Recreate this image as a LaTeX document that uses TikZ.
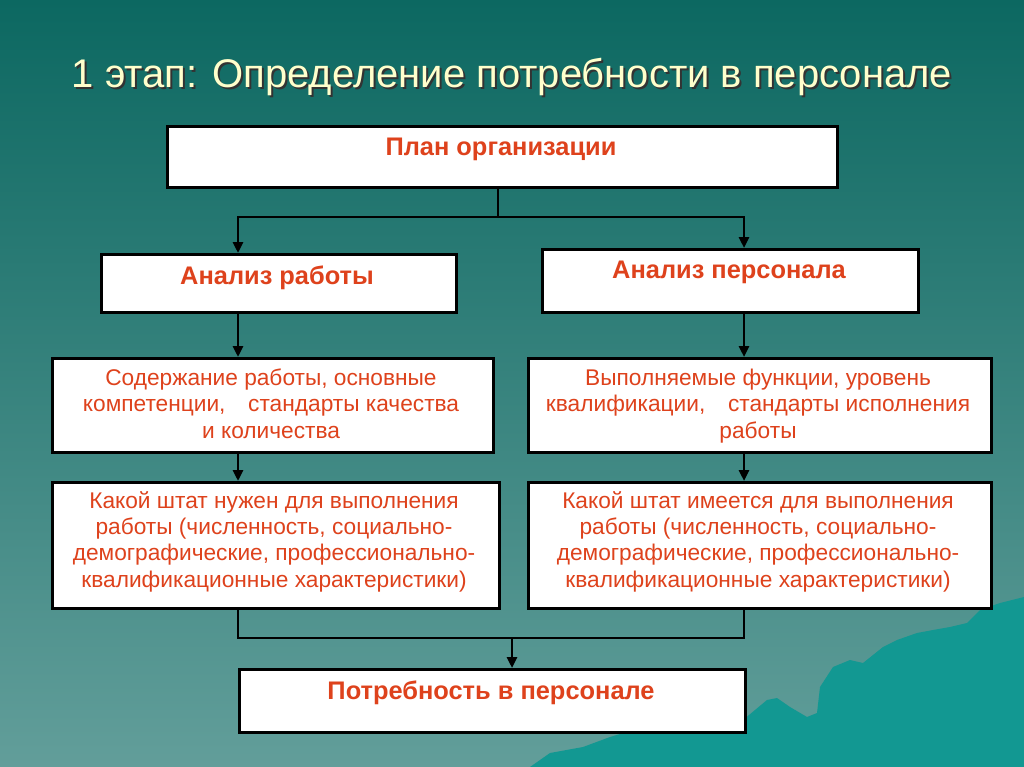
\documentclass[tikz,border=0pt]{standalone}
\usepackage{fontspec}
\setmainfont{Liberation Sans}
\usetikzlibrary{arrows.meta}
\definecolor{bgtop}{RGB}{12,104,97}
\definecolor{bgbot}{RGB}{98,158,154}
\definecolor{mount}{RGB}{18,152,146}
\definecolor{txtred}{RGB}{222,66,28}
\definecolor{titlecol}{RGB}{255,255,204}
\tikzset{
  box/.style={draw=black, line width=3pt, fill=white, inner sep=0pt, anchor=north west},
  hbold/.style={text=txtred, font=\fontsize{25.4}{30}\selectfont\bfseries, anchor=base, inner sep=0pt},
  body/.style={text=txtred, font=\fontsize{22.7}{26.3}\selectfont, anchor=base, inner sep=0pt, align=center},
  conn/.style={draw=black, line width=2.7pt},
  arr/.style={conn, -{Triangle[width=10pt,length=11pt]}},
}
\begin{document}
\begin{tikzpicture}[x=1pt,y=-1pt]
\useasboundingbox (0,0) rectangle (1024,767);
\shade[top color=bgtop, bottom color=bgbot] (0,0) rectangle (1024,767);
% mountains
\fill[mount] (530,767) -- (550,753) -- (583,747) -- (610,737) -- (643,727) -- (677,723) -- (700,720)
  -- (743,720) -- (767,700) -- (777,698) -- (790,707) -- (807,717) -- (817,713) -- (820,687)
  -- (833,667) -- (850,660) -- (863,663) -- (883,647) -- (897,640) -- (917,633) -- (933,630)
  -- (950,627) -- (967,623) -- (980,610) -- (1000,603) -- (1024,597) -- (1024,767) -- cycle;
% title
\node[text=black!80, font=\fontsize{40}{48}\selectfont, anchor=base, inner sep=0pt] (titleshadow) at (514,90) {1 этап: Определение потребности в персонале};
\node[text=titlecol, font=\fontsize{40}{48}\selectfont, anchor=base, inner sep=0pt] (title) at (512,88) {1 этап: Определение потребности в персонале};
% column coordinates
\coordinate (cl) at (238,0);
\coordinate (cr) at (744,0);
% boxes
\node[box, minimum width=670pt, minimum height=61pt] (plan) at (166,125) {};
\node[box, minimum width=355pt, minimum height=58pt] (ar) at (100,253) {};
\node[box, minimum width=376pt, minimum height=63pt] (ap) at (541,248) {};
\node[box, minimum width=441pt, minimum height=94pt] (sr) at (51,357) {};
\node[box, minimum width=463pt, minimum height=94pt] (vf) at (527,357) {};
\node[box, minimum width=447pt, minimum height=126pt] (kn) at (51,481) {};
\node[box, minimum width=463pt, minimum height=126pt] (ki) at (527,481) {};
\node[box, minimum width=506pt, minimum height=63pt] (pp) at (238,668) {};
% texts
\node[hbold] (tplan) at (501,156) {План организации};
\node[hbold] (tar) at (277,284) {Анализ работы};
\node[hbold] (tap) at (729,278) {Анализ персонала};
\node[body] (tsr) at (271,438) {Содержание работы, основные\\компетенции,\quad стандарты качества\\и количества};
\node[body] (tvf) at (758,438) {Выполняемые функции, уровень\\квалификации,\quad стандарты исполнения\\работы};
\node[body] (tkn) at (274,587) {Какой штат нужен для выполнения\\работы (численность, социально-\\демографические, профессионально-\\квалификационные характеристики)};
\node[body] (tki) at (758,587) {Какой штат имеется для выполнения\\работы (численность, социально-\\демографические, профессионально-\\квалификационные характеристики)};
\node[hbold] (tpp) at (491,699) {Потребность в персонале};
% connectors
\coordinate (j1) at (498,217);
\draw[conn] (plan.south -| j1) -- (j1);
\draw[arr] (j1) -| (ar.north -| cl);
\draw[arr] (j1) -| (ap.north -| cr);
\draw[arr] (ar.south -| cl) -- (sr.north -| cl);
\draw[arr] (ap.south -| cr) -- (vf.north -| cr);
\draw[arr] (sr.south -| cl) -- (kn.north -| cl);
\draw[arr] (vf.south -| cr) -- (ki.north -| cr);
\coordinate (j2) at (512,638);
\draw[conn] (kn.south -| cl) |- (j2) -| (ki.south -| cr);
\draw[arr] (j2) -- (pp.north -| j2);
\end{tikzpicture}
\end{document}
